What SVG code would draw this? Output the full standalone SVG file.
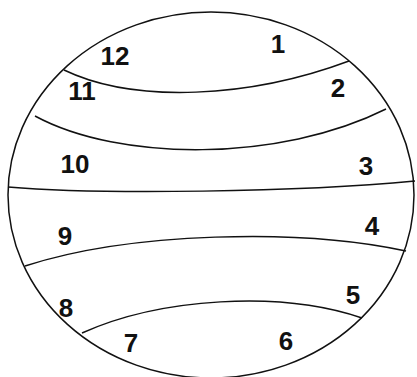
<svg xmlns="http://www.w3.org/2000/svg" width="417" height="377" viewBox="0 0 417 377">
<style>
.ln{fill:none;stroke:#111;stroke-width:1.5}
.lb{font-family:"Liberation Sans",Arial,sans-serif;font-weight:bold;font-size:26px;fill:#111;text-anchor:middle}
</style>
<rect width="417" height="377" fill="#fff"/>
<g id="outline">
<ellipse class="ln" cx="211" cy="195" rx="203" ry="183"/>
</g>
<g id="connectors">
<path class="ln" d="M64,70 C135,104 250,98 349,61"/>
<path class="ln" d="M35,116 C120,162 280,162 386,109"/>
<path class="ln" d="M8,187 C100,195 300,192 415,181"/>
<path class="ln" d="M25,266 C130,232 300,228 406,251"/>
<path class="ln" d="M82,333 C160,298 280,290 362,318"/>
</g>
<g id="labels">
<text class="lb" x="278" y="53">1</text>
<text class="lb" x="338" y="97">2</text>
<text class="lb" x="366" y="175">3</text>
<text class="lb" x="372" y="235">4</text>
<text class="lb" x="353" y="304">5</text>
<text class="lb" x="286" y="350">6</text>
<text class="lb" x="131" y="352">7</text>
<text class="lb" x="66" y="317">8</text>
<text class="lb" x="65" y="245">9</text>
<text class="lb" x="75" y="173">10</text>
<text class="lb" x="82" y="100">11</text>
<text class="lb" x="115" y="65">12</text>
</g>
</svg>
